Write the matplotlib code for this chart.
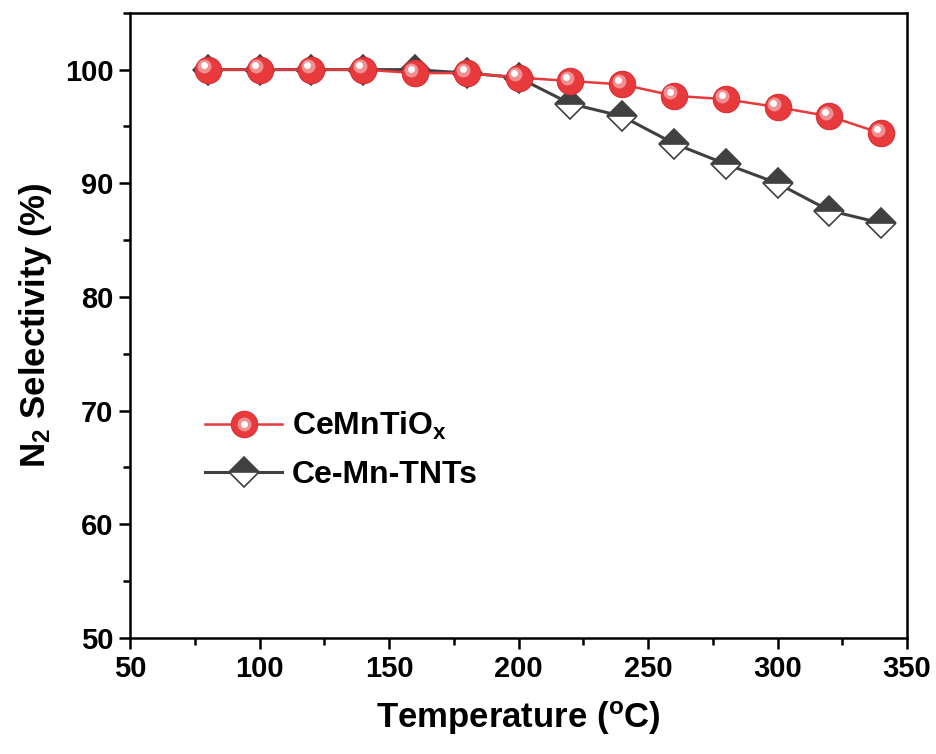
import numpy as np
import matplotlib
matplotlib.use("Agg")
import matplotlib.pyplot as plt
import matplotlib.transforms as mtransforms
from matplotlib.ticker import MultipleLocator
from matplotlib.legend_handler import HandlerTuple

plt.rcParams['font.family'] = ['Liberation Sans', 'DejaVu Sans']
plt.rcParams['font.weight'] = 'bold'
plt.rcParams['mathtext.fontset'] = 'custom'
plt.rcParams['mathtext.rm'] = 'Liberation Sans:bold'
plt.rcParams['mathtext.it'] = 'Liberation Sans:bold'
plt.rcParams['mathtext.bf'] = 'Liberation Sans:bold'
plt.rcParams['mathtext.default'] = 'rm'

# data
temperature = [80, 100, 120, 140, 160, 180, 200, 220, 240, 260, 280, 300, 320, 340]
cemntiox = [100.0, 100.0, 100.0, 100.0, 99.7, 99.7, 99.3, 99.0, 98.7, 97.7, 97.4, 96.7, 95.9, 94.4]
ce_mn_tnts = [100.0, 100.0, 100.0, 100.0, 100.0, 99.7, 99.3, 97.0, 95.9, 93.5, 91.7, 90.0, 87.6, 86.5]

red = '#e8393c'
grey = '#404040'

fig = plt.figure(figsize=(9.36, 7.54), dpi=100)
ax = fig.add_axes([0.139, 0.154, 0.830, 0.829])

# Ce-Mn-TNTs (half-filled diamonds)
l2, = ax.plot(temperature, ce_mn_tnts, color=grey, lw=2.2, marker='D', markersize=15,
              fillstyle='top', markerfacecolor=grey, markerfacecoloralt='white',
              markeredgecolor=grey, markeredgewidth=1.2, label='Ce-Mn-TNTs', zorder=2)

# CeMnTiOx (shaded spheres)
l1, = ax.plot(temperature, cemntiox, color=red, lw=1.8, marker='o', markersize=19,
              markerfacecolor=red, markeredgecolor='#d83034', markeredgewidth=0.8,
              label='CeMnTiOx', zorder=3)
off = mtransforms.ScaledTranslation(-2.5 / 72, 2.5 / 72, fig.dpi_scale_trans)
h1, = ax.plot(temperature, cemntiox, ls='none', marker='o', markersize=10,
              markerfacecolor='#f39a9c', markeredgewidth=0, alpha=0.9,
              transform=ax.transData + off, zorder=4)
off2 = mtransforms.ScaledTranslation(-3 / 72, 3 / 72, fig.dpi_scale_trans)
h2, = ax.plot(temperature, cemntiox, ls='none', marker='o', markersize=5,
              markerfacecolor='white', markeredgewidth=0,
              transform=ax.transData + off2, zorder=5)

ax.set_xlim(50, 350)
ax.set_ylim(50, 105)
ax.xaxis.set_major_locator(MultipleLocator(50))
ax.xaxis.set_minor_locator(MultipleLocator(25))
ax.yaxis.set_major_locator(MultipleLocator(10))
ax.yaxis.set_minor_locator(MultipleLocator(5))

for s in ax.spines.values():
    s.set_linewidth(1.8)
ax.tick_params(which='both', direction='out', width=1.8, top=False, right=False)
ax.tick_params(which='major', length=8, labelsize=21, pad=4)
ax.tick_params(which='minor', length=5)
for lab in ax.get_xticklabels() + ax.get_yticklabels():
    lab.set_fontweight('bold')

ax.set_xlabel('Temperature ($^\\mathrm{o}$C)', fontsize=25, fontweight='bold', labelpad=12)
ax.set_ylabel('N$_2$ Selectivity (%)', fontsize=25, fontweight='bold', labelpad=8)

ax.legend([(l1, h1, h2), l2], ['CeMnTiO$_\\mathrm{x}$', 'Ce-Mn-TNTs'],
          handler_map={tuple: HandlerTuple(ndivide=1, pad=0)},
          loc='upper left', bbox_to_anchor=(0.06, 0.41), frameon=False,
          fontsize=23, handlelength=2.4, handletextpad=0.3, labelspacing=0.55)

fig.savefig('out.png', dpi=100)
